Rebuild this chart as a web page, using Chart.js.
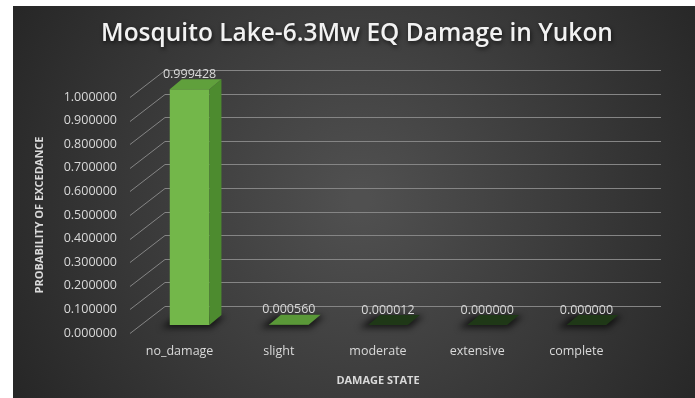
<!DOCTYPE html>
<html>
<head>
<meta charset="utf-8">
<script src="https://cdn.jsdelivr.net/npm/chart.js@4.4.1/dist/chart.umd.min.js"></script>
<style>
  html, body { margin: 0; padding: 0; background: #fff; }
  #wrap { width: 695px; height: 398px; }
</style>
</head>
<body>
<div id="wrap"><canvas id="damageChart" width="695" height="398"></canvas></div>
<script>
const chartTitle = 'Mosquito Lake-6.3Mw EQ Damage in Yukon';
const damageStates = ['no_damage', 'slight', 'moderate', 'extensive', 'complete'];
const exceedance = [0.999428, 0.000560, 0.000012, 0.000000, 0.000000];
const yTickValues = [0, 0.1, 0.2, 0.3, 0.4, 0.5, 0.6, 0.7, 0.8, 0.9, 1.0];

// fake 3d: back wall offset, bar depth, and where the bar front sits inside the floor
const WALL_DX = 35, WALL_DY = -27;
const BAR_DX = 12, BAR_DY = -10;
const SHIFT_X = 10, SHIFT_Y = -8;
const TEXT = '#d9d9d9';

const backdrop = {
    id: 'backdrop',
    beforeDraw(chart) {
        const ctx = chart.ctx;
        ctx.save();
        ctx.fillStyle = '#fff';
        ctx.fillRect(0, 0, chart.width, chart.height);
        const g = ctx.createRadialGradient(360, 200, 10, 360, 200, 430);
        g.addColorStop(0, '#505050');
        g.addColorStop(1, '#232323');
        ctx.fillStyle = g;
        ctx.fillRect(13, 6, chart.width - 13, chart.height - 6);
        ctx.restore();
    },
    afterDraw(chart) {
        // title drawn by hand so it can sit off-centre with a drop shadow
        const ctx = chart.ctx;
        ctx.save();
        ctx.font = '600 24.5px "Open Sans"';
        ctx.textAlign = 'center';
        ctx.textBaseline = 'alphabetic';
        ctx.shadowColor = 'rgba(0,0,0,0.65)';
        ctx.shadowBlur = 4;
        ctx.shadowOffsetX = 1;
        ctx.shadowOffsetY = 2;
        ctx.fillStyle = '#f2f2f2';
        ctx.fillText(chartTitle, 357, 41);
        ctx.restore();
    }
};

const bars3d = {
    id: 'bars3d',
    beforeDatasetsDraw(chart) {
        const {ctx, chartArea, scales: {y}} = chart;
        ctx.save();
        ctx.strokeStyle = '#858585';
        ctx.lineWidth = 1;
        y.ticks.forEach(t => {
            const py = Math.round(y.getPixelForValue(t.value)) + 0.5;
            ctx.beginPath();
            ctx.moveTo(chartArea.left, py);
            ctx.lineTo(chartArea.left + WALL_DX, py + WALL_DY);
            ctx.lineTo(chartArea.right + WALL_DX, py + WALL_DY);
            ctx.stroke();
        });

        // soft shadow at the foot of each bar
        ctx.filter = 'blur(3px)';
        ctx.fillStyle = 'rgba(0,0,0,0.65)';
        chart.getDatasetMeta(0).data.forEach(bar => {
            const l = bar.x - bar.width / 2 + SHIFT_X;
            const r = bar.x + bar.width / 2 + SHIFT_X;
            const b = bar.base + SHIFT_Y;
            ctx.beginPath();
            ctx.moveTo(l - 9, b + 3);
            ctx.lineTo(r + 2, b + 3);
            ctx.lineTo(r + BAR_DX + 4, b + BAR_DY + 1);
            ctx.lineTo(l + BAR_DX - 6, b + BAR_DY + 1);
            ctx.closePath();
            ctx.fill();
        });
        ctx.restore();

        ctx.save();
        ctx.translate(SHIFT_X, SHIFT_Y);
    },
    afterDatasetsDraw(chart) {
        const ctx = chart.ctx;
        ctx.restore();
        ctx.save();
        chart.getDatasetMeta(0).data.forEach((bar, i) => {
            const v = exceedance[i];
            const l = bar.x - bar.width / 2 + SHIFT_X;
            const r = bar.x + bar.width / 2 + SHIFT_X;
            const top = bar.y + SHIFT_Y;
            const bot = bar.base + SHIFT_Y;

            // right side
            if (bot - top > 1) {
                ctx.fillStyle = '#4d8b2f';
                ctx.beginPath();
                ctx.moveTo(r, top);
                ctx.lineTo(r + BAR_DX, top + BAR_DY);
                ctx.lineTo(r + BAR_DX, bot + BAR_DY);
                ctx.lineTo(r, bot);
                ctx.closePath();
                ctx.fill();
            }

            // lid
            ctx.fillStyle = v >= 0.0001 ? (bot - top > 1 ? '#60a03c' : '#5a9838') : '#1f3817';
            ctx.beginPath();
            ctx.moveTo(l, top);
            ctx.lineTo(r, top);
            ctx.lineTo(r + BAR_DX, top + BAR_DY);
            ctx.lineTo(l + BAR_DX, top + BAR_DY);
            ctx.closePath();
            ctx.fill();

            ctx.fillStyle = TEXT;
            ctx.font = '12.5px "Open Sans"';
            ctx.textAlign = 'center';
            ctx.textBaseline = 'middle';
            ctx.fillText(v.toFixed(6), bar.x + SHIFT_X, top + BAR_DY - 5);
        });
        ctx.restore();
    }
};

new Chart(document.getElementById('damageChart'), {
    type: 'bar',
    data: {
        labels: damageStates,
        datasets: [{
            data: exceedance,
            backgroundColor: '#73b74a',
            borderWidth: 0,
            categoryPercentage: 1,
            barPercentage: 0.4
        }]
    },
    options: {
        responsive: false,
        animation: false,
        layout: {padding: {left: 28, right: 69, top: 97, bottom: 0}},
        scales: {
            x: {
                grid: {display: false, drawTicks: false},
                border: {display: false},
                ticks: {color: TEXT, font: {family: 'Open Sans', size: 12.5}, padding: 11, maxRotation: 0},
                title: {
                    display: true,
                    text: 'DAMAGE STATE',
                    color: TEXT,
                    font: {family: 'Open Sans', size: 11, weight: 'bold'},
                    padding: {top: 0, bottom: 11}
                },
                afterFit: s => { s.height = 65; }
            },
            y: {
                min: 0,
                max: 1,
                afterBuildTicks: s => { s.ticks = yTickValues.map(v => ({value: v})); },
                grid: {display: false, drawTicks: false},
                border: {display: false},
                ticks: {
                    color: TEXT,
                    font: {family: 'Open Sans', size: 12.5},
                    padding: 13,
                    callback: v => Number(v).toFixed(6)
                },
                title: {
                    display: true,
                    text: 'PROBABILITY OF EXCEDANCE',
                    color: TEXT,
                    font: {family: 'Open Sans', size: 11, weight: 'bold'},
                    padding: {top: 5, bottom: 0}
                },
                afterFit: s => { s.width = 102; }
            }
        },
        plugins: {
            legend: {display: false},
            tooltip: {enabled: false},
            title: {display: false}
        }
    },
    plugins: [backdrop, bars3d]
});
</script>
</body>
</html>
